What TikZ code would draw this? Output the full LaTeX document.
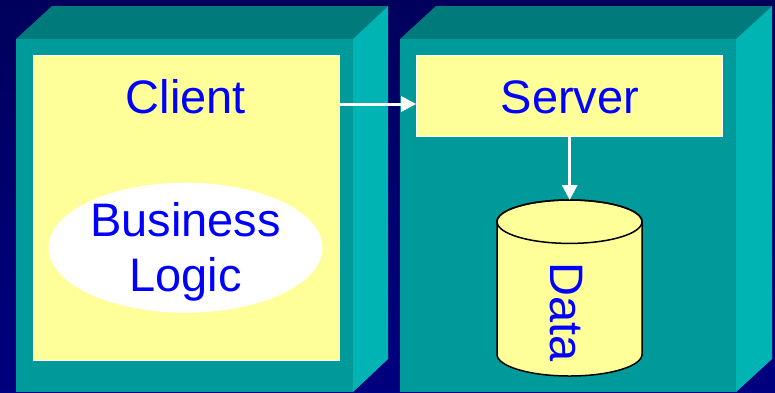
\documentclass[tikz,border=0pt]{standalone}
\usepackage{fontspec}
\setmainfont{Liberation Sans}
\usetikzlibrary{arrows.meta,shapes.geometric}
\definecolor{bgtop}{RGB}{0,0,92}
\definecolor{bgbot}{RGB}{0,0,128}
\definecolor{facetop}{RGB}{0,122,122}
\definecolor{facefront}{RGB}{0,154,154}
\definecolor{faceside}{RGB}{0,180,180}
\definecolor{paleyellow}{RGB}{255,255,153}
\definecolor{txtblue}{RGB}{0,0,255}
\tikzset{
  topface/.style={fill=facetop},
  frontface/.style={fill=facefront},
  sideface/.style={fill=faceside},
  yellowbox/.style={draw=white, line width=1pt, fill=paleyellow, rectangle, inner sep=0pt},
  label47/.style={text=txtblue, font=\fontsize{47}{55}\selectfont, inner sep=0pt, anchor=base},
  arr/.style={draw=white, line width=3pt, -{Triangle[length=15pt,width=15pt]}},
}
\begin{document}
\begin{tikzpicture}[x=1pt,y=-1pt]
\useasboundingbox (0,0) rectangle (775,392);
\shade[top color=bgtop, bottom color=bgbot] (0,0) rectangle (775,392);
% left box
\path[topface] (16,39) -- (52,6) -- (388,6) -- (353,39) -- cycle;
\path[sideface] (353,39) -- (388,6) -- (388,359) -- (353,392) -- cycle;
\path[frontface] (16,39) rectangle (353,392);
% right box
\path[topface] (400,39) -- (436,6) -- (772,6) -- (736,39) -- cycle;
\path[sideface] (736,39) -- (772,6) -- (772,359) -- (736,392) -- cycle;
\path[frontface] (400,39) rectangle (736,392);
% client
\node[yellowbox, minimum width=306pt, minimum height=305pt] (clientbox) at (186,207.5) {};
\node[ellipse, fill=white, inner sep=0pt, minimum width=274pt, minimum height=130pt] (logic) at (185.5,247.7) {};
\node[label47] (clienttxt) at (186,113) {Client};
\node[label47] (bustxt) at (185.5,236.7) {Business};
\node[label47] (logictxt) at (185.5,291.7) {Logic};
% server
\node[yellowbox, minimum width=306pt, minimum height=81.7pt] (serverbox) at (569.7,95.85) {};
\node[label47] (servertxt) at (570,113) {Server};
% data cylinder
\filldraw[fill=paleyellow, draw=black, line width=1.5pt]
  (497,221.7) -- (497,354.3) arc[start angle=180, end angle=0, x radius=72.5, y radius=21.7]
  -- (642,221.7) arc[start angle=0, end angle=-180, x radius=72.5, y radius=21.7] -- cycle;
\draw[black, line width=1.5pt] (569.5,221.7) ellipse[x radius=72.5, y radius=21.7];
\coordinate (cyltop) at (569.5,200);
\node[label47, rotate=-90] (datatxt) at (550,311.7) {Data};
% arrows
\coordinate (harrow) at (339,104);
\draw[arr] (harrow) -- (serverbox.west |- harrow);
\draw[arr] (serverbox.south) -- (serverbox.south |- cyltop);
\end{tikzpicture}
\end{document}
